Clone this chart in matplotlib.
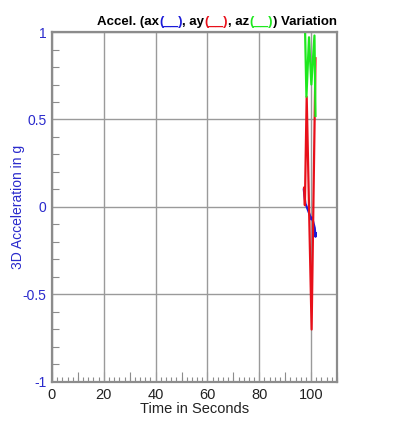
import matplotlib
matplotlib.use('Agg')
import matplotlib.pyplot as plt
from matplotlib.ticker import MultipleLocator, FuncFormatter

plt.rcParams['font.family'] = ['Liberation Sans', 'DejaVu Sans']
plt.rcParams['axes.unicode_minus'] = False

# Data
t_ax = [97.2, 97.4, 97.8, 98.6, 99.6, 100.0, 100.4, 101.4, 101.7, 101.8]
ax_vals = [0.10, 0.07, 0.02, -0.01, -0.05, -0.07, -0.06, -0.12, -0.17, -0.15]

t_ay = [97.3, 97.5, 97.6, 98.3, 100.2, 101.7]
ay_vals = [0.11, 0.05, 0.01, 0.63, -0.70, 0.85]

t_az = [97.7, 98.2, 99.2, 100.1, 101.3, 101.7]
az_vals = [0.99, 0.63, 0.97, 0.70, 0.98, 0.52]

x_ticks = [0, 20, 40, 60, 80, 100]
y_ticks = [-1, -0.5, 0, 0.5, 1]

blue = '#1a1ad8'
red = '#e8101a'
green = '#1ee81e'
label_blue = '#2a2acc'
frame_gray = '#8c8c8c'

fig = plt.figure(figsize=(4.0, 4.25), dpi=100, facecolor='white')
ax = fig.add_axes([0.13, 0.1012, 0.7125, 0.8235])

# blue underneath, then red, green on top
ax.plot(t_ax, ax_vals, color=blue, lw=1.6)
ax.plot(t_ay, ay_vals, color=red, lw=1.6)
ax.plot(t_az, az_vals, color=green, lw=1.6)

ax.set_xlim(0, 110)
ax.set_ylim(-1, 1)

ax.set_xticks(x_ticks)
ax.set_yticks(y_ticks)
ax.xaxis.set_minor_locator(MultipleLocator(2))
ax.yaxis.set_minor_locator(MultipleLocator(0.1))
ax.yaxis.set_major_formatter(FuncFormatter(lambda v, p: '%g' % v))

ax.grid(True, which='major', color='#9a9a9a', lw=1.0)
ax.set_axisbelow(True)

for s in ax.spines.values():
    s.set_color(frame_gray)
    s.set_linewidth(1.6)

ax.tick_params(axis='x', which='major', direction='in', length=0, pad=4,
               labelsize=10.5, labelcolor='#222222')
ax.tick_params(axis='x', which='minor', direction='in', length=3.5,
               color=frame_gray, width=0.8)
ax.tick_params(axis='y', which='major', direction='in', length=0, pad=4,
               labelsize=10, labelcolor=label_blue)
ax.tick_params(axis='y', which='minor', direction='in', length=5,
               color=frame_gray, width=0.8)

# medium ticks every 10 s on the time axis
sec = ax.secondary_xaxis('bottom')
sec.set_xticks(range(0, 111, 10))
sec.tick_params(direction='in', length=7, color=frame_gray, width=0.8,
                labelbottom=False)
sec.spines['bottom'].set_visible(False)

ax.set_xlabel('Time in Seconds', fontsize=10.5, color='#222222', labelpad=0)
ax.set_ylabel('3D Acceleration in g', fontsize=10, color=label_blue, labelpad=-2)

# Title with coloured markers, pieces placed one after the other
title_parts = [('Accel. (ax', 'black'), ('(__)', blue), (', ay', 'black'),
               ('(__)', red), (', az', 'black'), ('(__)', green),
               (') Variation', 'black')]
renderer = fig.canvas.get_renderer()
x0 = 0.2425
for txt, col in title_parts:
    t = fig.text(x0, 0.941, txt, fontsize=9.5, fontweight='bold', color=col,
                 va='baseline', ha='left')
    ext = t.get_window_extent(renderer)
    x0 = ext.x1 / fig.bbox.width

plt.savefig('out.png', dpi=100, facecolor='white')
